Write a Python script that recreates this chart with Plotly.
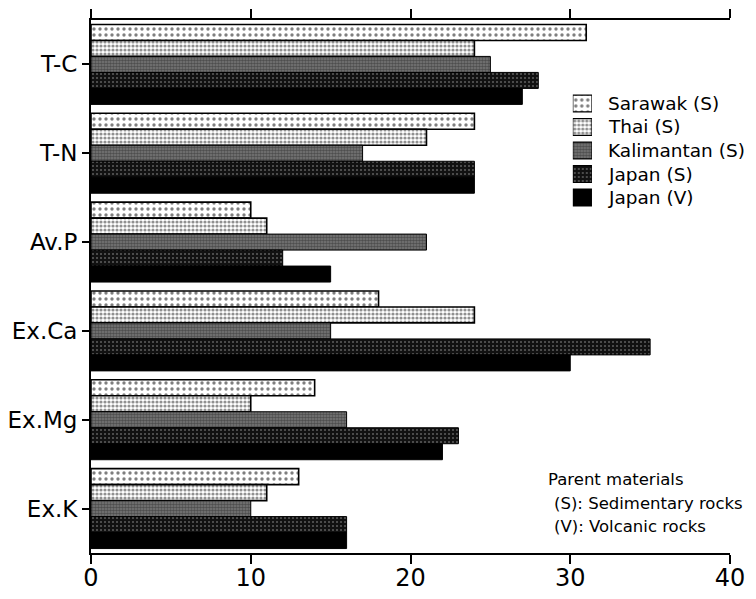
import plotly.graph_objects as go

categories = ["T-C", "T-N", "Av.P", "Ex.Ca", "Ex.Mg", "Ex.K"]
series_names = ["Sarawak (S)", "Thai (S)", "Kalimantan (S)", "Japan (S)", "Japan (V)"]
sarawak = [31, 24, 10, 18, 14, 13]
thai = [24, 21, 11, 24, 10, 11]
kalimantan = [25, 17, 21, 15, 16, 10]
japan_s = [28, 24, 12, 35, 23, 16]
japan_v = [27, 24, 15, 30, 22, 16]
x_ticks = [0, 10, 20, 30, 40]
note_lines = ["Parent materials", "(S): Sedimentary rocks", "(V): Volcanic rocks"]

values = [sarawak, thai, kalimantan, japan_s, japan_v]
styles = [
    dict(color="white", pattern=dict(shape=".", fgcolor="black", bgcolor="white", size=6, solidity=0.25)),
    dict(color="white", pattern=dict(shape=".", fgcolor="#222", bgcolor="white", size=4, solidity=0.5)),
    dict(color="#555", pattern=dict(shape=".", fgcolor="#222", bgcolor="#7a7a7a", size=3, solidity=0.6)),
    dict(color="black", pattern=dict(shape=".", fgcolor="#aaa", bgcolor="#111", size=4, solidity=0.2)),
    dict(color="black"),
]
line_widths = [1.6, 1.6, 1.0, 1.0, 1.0]

FONT = "'DejaVu Sans', Verdana, sans-serif"
fig = go.Figure()
for name, vals, st, lw in zip(series_names, values, styles, line_widths):
    fig.add_trace(go.Bar(
        y=categories, x=vals, name=name, orientation="h", showlegend=False,
        marker=dict(line=dict(color="black", width=lw), **st),
    ))

# custom legend: swatches on a small auxiliary axis pair
for name, st in zip(series_names, styles):
    fig.add_trace(go.Bar(
        y=[name], x=[1], orientation="h", xaxis="x2", yaxis="y2",
        width=0.72, offset=-0.36, showlegend=False, hoverinfo="skip",
        marker=dict(line=dict(color="black", width=1.2), **st),
    ))

annotations = []
for name in series_names:
    annotations.append(dict(xref="paper", yref="y2", x=0.806, y=name, xanchor="left",
                            yanchor="middle", showarrow=False, text=name,
                            font=dict(size=18.5, color="black", family=FONT)))
note_x = [0.712, 0.722, 0.722]
note_y = [0.137, 0.092, 0.049]
for txt, nx, ny in zip(note_lines, note_x, note_y):
    annotations.append(dict(xref="paper", yref="paper", x=nx, y=ny, xanchor="left",
                            yanchor="middle", showarrow=False, text=txt,
                            font=dict(size=16.5, color="black", family=FONT)))

# page body has an 8px default margin, so the figure is sized/offset to compensate
fig.update_layout(
    width=748, height=591,
    margin=dict(l=83, r=26, t=12, b=46),
    paper_bgcolor="white", plot_bgcolor="white",
    barmode="group", bargap=0.1, bargroupgap=0,
    font=dict(family=FONT, color="black"),
    showlegend=False,
    xaxis=dict(range=[0, 40], tickvals=x_ticks, ticks="outside", ticklen=9,
               tickwidth=1.5, tickcolor="black", showline=True, linecolor="black",
               linewidth=1.5, mirror="ticks", showgrid=False, zeroline=False,
               automargin=False, ticklabelstandoff=-7,
               tickfont=dict(size=24, color="black")),
    yaxis=dict(autorange="reversed", ticks="outside", ticklen=7, tickwidth=1.5,
               tickcolor="black", showline=True, linecolor="black", linewidth=2,
               showgrid=False, automargin=False, tickfont=dict(size=23, color="black")),
    xaxis2=dict(domain=[0.754, 0.784], range=[0, 1], anchor="y2", visible=False,
                fixedrange=True),
    yaxis2=dict(domain=[0.6435, 0.8668], anchor="x2", autorange="reversed",
                visible=False, type="category", fixedrange=True),
    annotations=annotations,
)

fig.write_html("out.html")
